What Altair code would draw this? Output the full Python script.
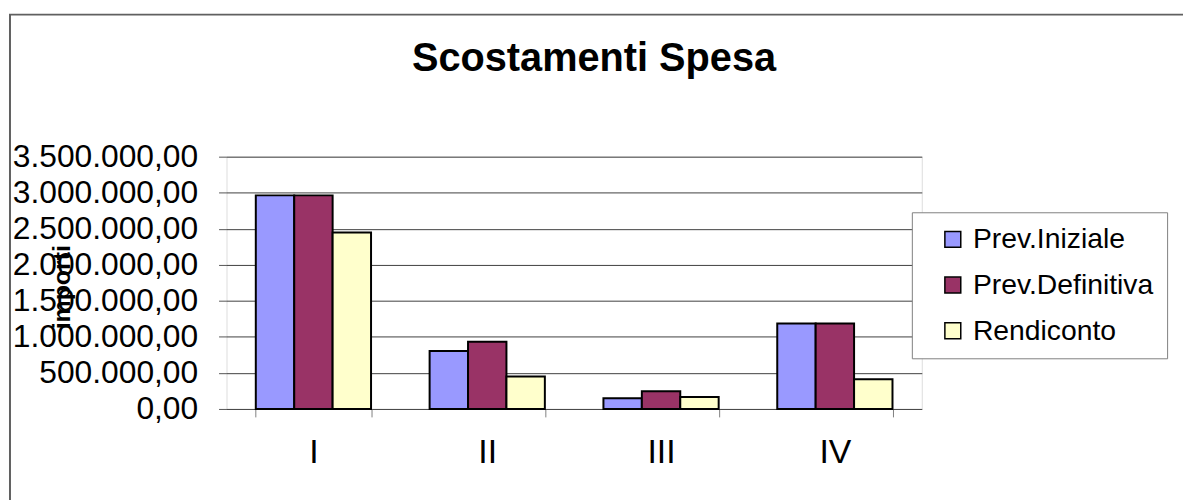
import altair as alt
import pandas as pd

title_text = "Scostamenti Spesa"
categories = ["I", "II", "III", "IV"]
series = ["Prev.Iniziale", "Prev.Definitiva", "Rendiconto"]
prev_iniziale = [2963000, 803000, 147000, 1185000]
prev_definitiva = [2963000, 933000, 244000, 1185000]
rendiconto = [2449000, 450000, 165000, 413000]
y_ticks = [0, 500000, 1000000, 1500000, 2000000, 2500000, 3000000, 3500000]
colors = ["#9999FF", "#993366", "#FFFFCC"]

rows = []
for i, c in enumerate(categories):
    for s, vals in zip(series, [prev_iniziale, prev_definitiva, rendiconto]):
        rows.append({"cat": c, "serie": s, "val": vals[i]})
df = pd.DataFrame(rows)

FONT = "Liberation Sans"

bars = alt.Chart(df).mark_bar(stroke="black", strokeWidth=2).encode(
    x=alt.X("cat:N", sort=categories, title=None,
            scale=alt.Scale(paddingInner=0.337, paddingOuter=0.1685),
            axis=alt.Axis(labelAngle=0, labelFontSize=34, labelFont=FONT, labelColor="black",
                          tickBand="extent", tickSize=8, tickColor="#808080",
                          domain=False, labelPadding=19)),
    xOffset=alt.XOffset("serie:N", sort=series),
    y=alt.Y("val:Q", title="importi",
            scale=alt.Scale(domain=[0, 3500000], nice=False),
            axis=alt.Axis(values=y_ticks, labelFontSize=32, labelFont=FONT, labelColor="black",
                          labelLimit=400,
                          labelExpr="replace(replace(replace(format(datum.value, ',.2f'), /,/g, 'X'), /\\./g, ','), /X/g, '.')",
                          tickSize=8, tickColor="#555555", domain=False, labelPadding=21,
                          grid=True, gridColor="#404040", gridWidth=1,
                          titleFont=FONT, titleFontSize=25, titleFontWeight="bold", titleColor="black",
                          titleX=-166, titleY=131, titleAngle=-90, titleBaseline="middle", titleAlign="center")),
    color=alt.Color("serie:N", sort=series, scale=alt.Scale(domain=series, range=colors),
                    legend=alt.Legend(title=None, orient="none", legendX=690, legendY=56,
                                      labelFont=FONT, labelFontSize=28.5, labelColor="black", labelLimit=400,
                                      symbolType="square", symbolSize=256, symbolStrokeColor="black",
                                      symbolStrokeWidth=1.5, symbolOpacity=1,
                                      fillColor="white", strokeColor="#808080", padding=13,
                                      rowPadding=17, labelOffset=6, symbolOffset=14)),
)

title = alt.Chart(pd.DataFrame({"t": [title_text]})).mark_text(
    font=FONT, fontSize=40, fontWeight="bold", color="black", align="center", baseline="alphabetic"
).encode(text="t:N", x=alt.value(370), y=alt.value(-86))

border = alt.Chart(pd.DataFrame({"a": [0]})).mark_rect(fill=None, stroke="#606060", strokeWidth=2).encode(
    x=alt.value(-218), x2=alt.value(1000), y=alt.value(-143), y2=alt.value(400)
)

chart = alt.layer(bars, title, border).properties(
    width=700, height=254,
    autosize=alt.AutoSizeParams(type="none"),
    padding={"left": 220, "top": 148, "right": 263, "bottom": 90},
).configure_view(stroke="#808080", fill="#C0C0C0").configure(background="white")

chart.save("out.html", embed_options={"renderer": "svg", "actions": False})
